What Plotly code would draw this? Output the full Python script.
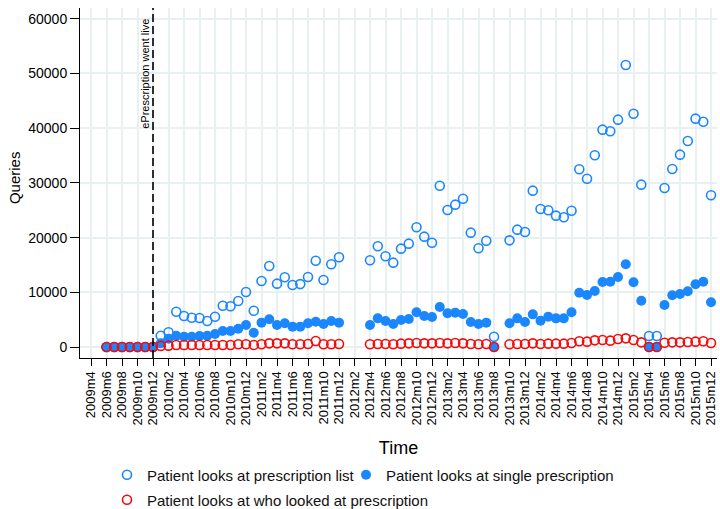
import plotly.graph_objects as go

# Month tick labels, 2009m4 .. 2015m12
month_labels = [f"{y}m{m}" for y in range(2009, 2016) for m in range(1, 13)][3:]

# Data months (2009m6 .. 2015m12); None = no observation
months = month_labels[2:]

list_views = [
    0, 0, 0, 0, 0, 0, 0,
    2070, 2690, 6450, 5670, 5360, 5300, 4750, 5540, 7550, 7440, 8410, 10050,
    6640, 12070, 14810, 11580, 12740, 11330, 11500, 12800, 15780, 12250, 15120, 16400,
    None, None, None, 15850, 18410, 16580, 15420, 17980, 18890, 21880, 20170, 19070,
    29490, 25050, 26020, 27110, 20900, 18040, 19430, 1880, None, 19500, 21450, 21020,
    28580, 25230, 24990, 24010, 23710, 24920, 32480, 30770, 35040, 39730, 39430, 41560,
    51550, 42650, 29680, 2010, 2010, 29070, 32540, 35160, 37660, 41740, 41190, 27730,
]

single_views = [
    0, 0, 0, 0, 0, 0, 0,
    700, 1500, 2070, 1880, 1880, 2000, 2070, 2380, 2930, 2930, 3350, 4020,
    2620, 4450, 5060, 4020, 4330, 3720, 3720, 4330, 4630, 4200, 4750, 4450,
    None, None, None, 4020, 5240, 4750, 4200, 4940, 5120, 6340, 5670, 5480,
    7310, 6160, 6280, 6030, 4570, 4200, 4450, 0, None, 4330, 5240, 4570,
    5970, 4820, 5540, 5240, 5240, 6340, 9930, 9510, 10240, 11880, 11940, 12800,
    15120, 11830, 8470, 0, 0, 7680, 9450, 9690, 10180, 11460, 11940, 8170,
]

who_views = [
    0, 0, 0, 0, 0, 0, 0,
    200, 250, 370, 370, 370, 370, 370, 370, 370, 370, 490, 490,
    370, 490, 670, 670, 670, 490, 490, 550, 1100, 490, 490, 550,
    None, None, None, 490, 550, 550, 490, 610, 670, 730, 670, 670,
    730, 670, 730, 670, 550, 490, 550, 0, None, 490, 550, 550,
    670, 550, 610, 610, 610, 730, 1040, 980, 1220, 1280, 1160, 1460,
    1580, 1280, 850, 0, 0, 790, 850, 850, 910, 980, 1040, 730,
]

live_month = "2009m12"
y_ticks = [0, 10000, 20000, 30000, 40000, 50000, 60000]
y_ticktext = ["0", "10000", "20000", "30000", "40000", "50000", "60000"]

x = [month_labels.index(m) for m in months]
BLUE = "#1a87ff"
RED = "#f50a0a"
GRID = "#e8f0f2"
FONT = "Liberation Sans, Arial, sans-serif"

fig = go.Figure()
fig.add_trace(go.Scatter(
    x=x, y=list_views, mode="markers", name="Patient looks at prescription list",
    marker=dict(symbol="circle-open", size=9, color=BLUE, line=dict(width=1.6, color=BLUE)),
    legend="legend",
))
fig.add_trace(go.Scatter(
    x=x, y=single_views, mode="markers", name="Patient looks at single prescription",
    marker=dict(symbol="circle", size=10, color=BLUE),
    legend="legend2",
))
fig.add_trace(go.Scatter(
    x=x, y=who_views, mode="markers", name="Patient looks at who looked at prescription",
    marker=dict(symbol="circle-open", size=9, color=RED, line=dict(width=1.6, color=RED)),
    legend="legend3",
))

xl = month_labels.index(live_month)
fig.add_shape(type="line", xref="x", yref="paper", x0=xl, x1=xl, y0=0, y1=1,
              line=dict(color="black", width=1.6, dash="8px,4px"))
fig.add_annotation(x=xl, xref="x", y=0.975, yref="paper", text="ePrescription went live",
                   textangle=-90, showarrow=False, xanchor="center", yanchor="top",
                   xshift=-8, font=dict(size=11, color="black", family=FONT))
# y-axis title
fig.add_annotation(x=-0.1036, xref="paper", y=0.514, yref="paper", text="Queries",
                   textangle=-90, showarrow=False, xanchor="center", yanchor="middle",
                   font=dict(size=15, color="black", family=FONT))

legend_common = dict(orientation="v", xref="container", yref="container",
                     xanchor="left", yanchor="middle", bgcolor="rgba(0,0,0,0)",
                     font=dict(size=15, color="#111", family=FONT), itemwidth=30)
fig.update_layout(
    width=720, height=509,
    margin=dict(l=80, r=3, t=8, b=151, autoexpand=False),
    paper_bgcolor="white", plot_bgcolor="white",
    font=dict(family=FONT, color="black"),
    showlegend=True,
    legend=dict(x=107 / 720, y=1 - 475 / 509, **legend_common),
    legend2=dict(x=346 / 720, y=1 - 475 / 509, **legend_common),
    legend3=dict(x=107 / 720, y=1 - 500 / 509, **legend_common),
    xaxis=dict(
        range=[-1.42, 80.77],
        tickvals=list(range(0, len(month_labels), 2)),
        ticktext=month_labels[::2],
        tickangle=-90, ticks="outside", ticklen=7, tickcolor="black",
        showline=True, linecolor="black", linewidth=1,
        showgrid=True, gridcolor=GRID, gridwidth=1.5, zeroline=False,
        tickfont=dict(size=13, color="black"),
        title=dict(text="Time", font=dict(size=18, color="black"), standoff=16),
    ),
    yaxis=dict(
        range=[-2010, 61970],
        tickvals=y_ticks, ticktext=y_ticktext,
        ticks="outside", ticklen=9, tickcolor="black",
        showline=True, linecolor="black", linewidth=1,
        showgrid=True, gridcolor=GRID, gridwidth=1.5, zeroline=False,
        tickfont=dict(size=14, color="black"),
    ),
)

fig.write_html("out.html",
               config={"displayModeBar": False},
               post_script="document.body.style.margin='0px';document.body.style.padding='0px';")
